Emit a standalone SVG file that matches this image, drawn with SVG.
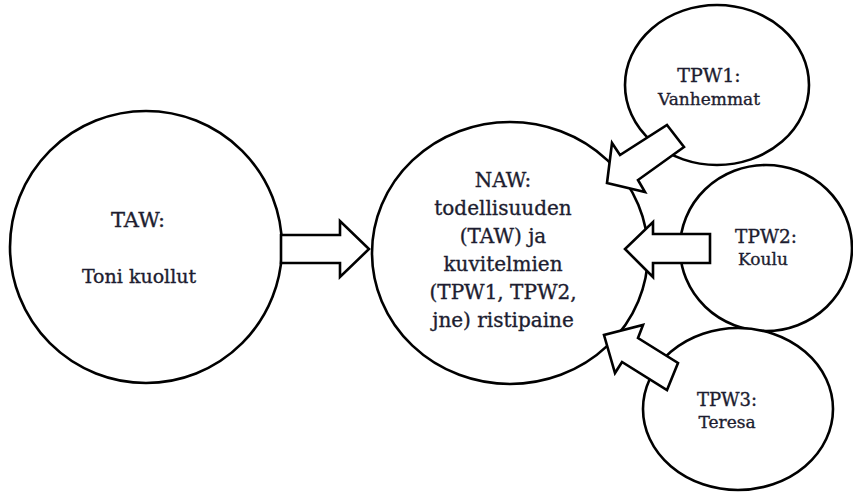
<svg xmlns="http://www.w3.org/2000/svg" width="853" height="492" viewBox="0 0 853 492">
<style>
.node{fill:#fff;stroke:#000;stroke-width:2.6}
.arrow{fill:#fff;stroke:#000;stroke-width:2.6;stroke-linejoin:miter}
text{font-family:"DejaVu Serif","Liberation Serif",serif;fill:#1d1d30;stroke:#1d1d30;stroke-width:0.35;text-anchor:middle}
.big{font-size:20px}
.mid{font-size:19px}
.sm{font-size:17px}
</style>
<rect width="853" height="492" fill="#fff"/>
<g id="TAW">
<circle class="node" cx="146" cy="247" r="136"/>
<text class="big" x="138" y="227" style="font-size:21px">TAW:</text>
<text class="mid" x="139" y="283">Toni kuollut</text>
</g>
<g id="NAW">
<ellipse class="node" cx="510" cy="253" rx="138" ry="131"/>
<text class="big" x="503" y="187">NAW:</text>
<text class="big" x="503" y="215">todellisuuden</text>
<text class="big" x="503" y="243">(TAW) ja</text>
<text class="big" x="503" y="271">kuvitelmien</text>
<text class="big" x="503" y="299">(TPW1, TPW2,</text>
<text class="big" x="503" y="327">jne) ristipaine</text>
</g>
<g id="TPW1">
<ellipse class="node" cx="717" cy="85" rx="92" ry="80"/>
<text x="709" y="82" style="font-size:19px">TPW1:</text>
<text class="sm" x="709" y="105">Vanhemmat</text>
</g>
<g id="TPW2">
<ellipse class="node" cx="766" cy="248" rx="86" ry="83"/>
<text x="766" y="243" style="font-size:18.5px">TPW2:</text>
<text class="sm" x="763" y="265">Koulu</text>
</g>
<g id="TPW3">
<ellipse class="node" cx="738" cy="409" rx="95" ry="81"/>
<text x="727" y="406" style="font-size:18px">TPW3:</text>
<text class="sm" x="727" y="428">Teresa</text>
</g>
<g id="connectors">
<polygon class="arrow" points="281,235 340,235 340,221 369,249 340,277 340,263 281,263"/>
<polygon class="arrow" points="667,125 684,147 638,180 645,192 607,183 612,143 620,155"/>
<polygon class="arrow" points="710,234 710,263 653,263 653,277 625,249 653,222 653,234"/>
<polygon class="arrow" points="643,325 638,338 678,363 667,390 622,362 615,373 604,335"/>
</g>
</svg>
